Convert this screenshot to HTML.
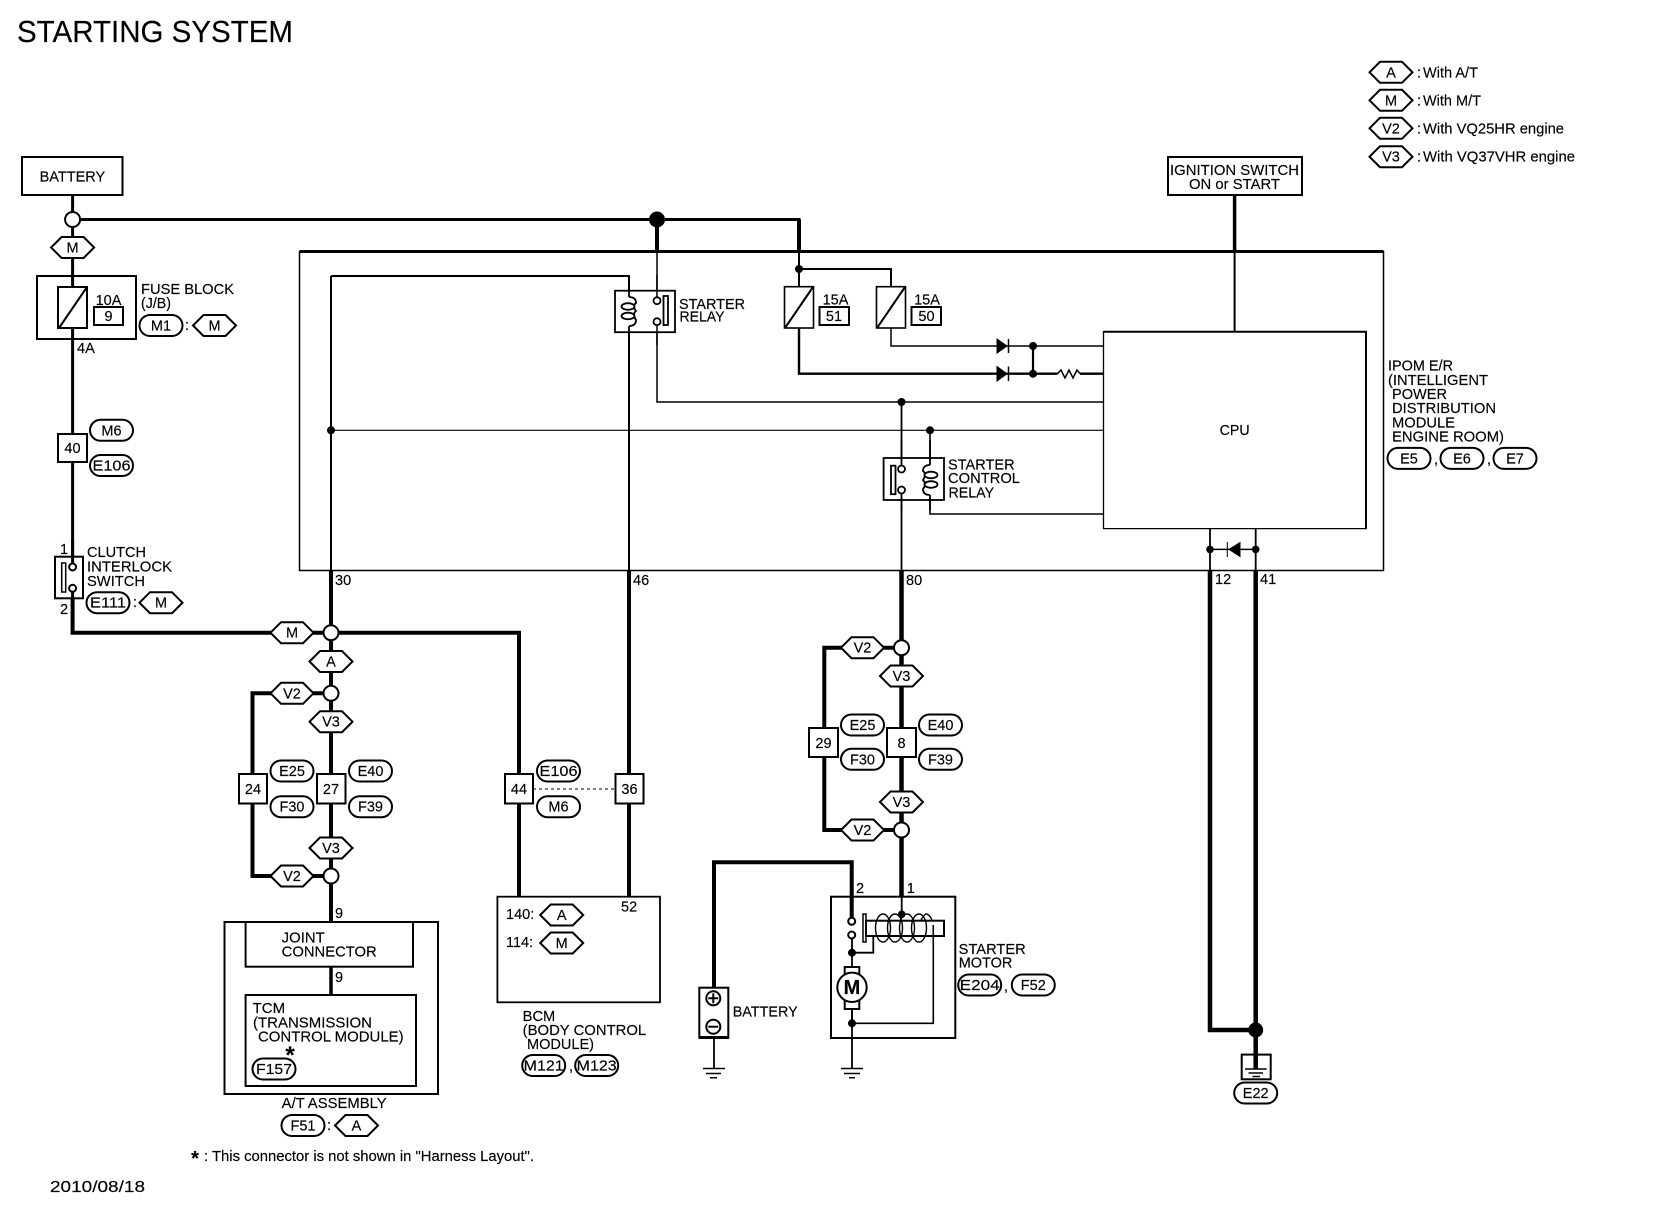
<!DOCTYPE html>
<html><head><meta charset="utf-8"><title>Starting System</title>
<style>
html,body{margin:0;padding:0;background:#fff}
svg{display:block}
text{font-family:"Liberation Sans",Arial,sans-serif;font-size:14.5px;fill:#000;stroke:#000;stroke-width:.15px}
.c{text-anchor:middle}
.s{font-size:14.5px}
</style></head><body>
<svg width="1660" height="1216" viewBox="0 0 1660 1216" xmlns="http://www.w3.org/2000/svg">
<defs>
<polygon id="h" points="-21.5,0 -11,-10.5 11,-10.5 21.5,0 11,10.5 -11,10.5" fill="#fff" stroke="#000" stroke-width="2"/>
<rect id="p" x="-21.5" y="-10.5" width="43" height="21" rx="10.5" ry="10.5" fill="#fff" stroke="#000" stroke-width="2"/>
</defs>
<rect width="1660" height="1216" fill="#fff"/>

<text x="17" y="42" style="font-size:30.5px" textLength="276" lengthAdjust="spacingAndGlyphs">STARTING SYSTEM</text>

<!-- frames -->
<g fill="none" stroke="#000">
<path d="M299.5 570.5V251.7H1383.5V570.5H299.5Z" stroke-width="1.5"/>
<path d="M299.5 251.5H1383.5" stroke-width="3"/>
<path d="M1103.5 331.7H1366V528.6H1103.5Z" stroke-width="1.3"/>
<path d="M1103.5 331.7H1366V528.6" stroke-width="2"/>
<rect x="22" y="157" width="100.5" height="38" stroke-width="2"/>
<rect x="1168" y="157" width="134" height="38" stroke-width="2"/>
<rect x="37" y="276" width="99" height="63" stroke-width="2"/>

<!-- wires thick -->
<path d="M72.6 195V632.7H519V774" stroke-width="3"/>
<path d="M72.6 212V227" stroke-width="3"/>
<path d="M72.6 219.5H799V252" stroke-width="3"/>
<path d="M799 219.5V252" stroke-width="4"/>
<path d="M657 219.5V252" stroke-width="4"/>
<path d="M72.6 598V632.7H331M331 632.7H519V774" stroke-width="4"/>
<path d="M331 570V774M331 803V922" stroke-width="4"/>
<path d="M331 693.3H252.5V774M252.5 803V876H331" stroke-width="4"/>
<path d="M519 803V897M629 570V774M629 803V897" stroke-width="4"/>
<path d="M901.5 570V728M901.5 757V897" stroke-width="4.5"/>
<path d="M901.5 647.7H824.3V728M824.3 757V830H901.5" stroke-width="4"/>
<path d="M714 988V862.3H851.7V921" stroke-width="4"/>
<path d="M1234.6 195V251" stroke-width="3.5"/>
<path d="M1210 570V1030H1255.7M1255.7 570V1069" stroke-width="4.5"/>
<path d="M331 966V995" stroke-width="3.5"/>

<!-- wires thin -->
<path d="M1234.6 251V331.7" stroke-width="2"/>
<path d="M331 276H629V297M629 326V570M331 276V570" stroke-width="2"/>
<path d="M657 252V297M657 325V402H1103.5" stroke-width="1.5"/>
<path d="M799 252V287M799 269H891V287" stroke-width="2"/>
<path d="M891 328V346H1103.5" stroke-width="1.5"/>
<path d="M799 328V373.7H1057.5M1080 373.7H1103.5" stroke-width="2.4"/>
<path d="M1033 346V373.7" stroke-width="2.2"/>
<path d="M331 430.3H1103.5" stroke-width="1.1"/>
<path d="M901.5 402V465M901.5 494V570" stroke-width="1.8"/>
<path d="M930 430V465M930 495V514H1103.5" stroke-width="1.6"/>
<path d="M1210 528.6V570M1255.7 528.6V570" stroke-width="1.8"/>
<path d="M1210 549.4H1255.7" stroke-width="1.5"/>
<path d="M1057.5 373.7L1061 370L1065 378L1069 370L1073 378L1077 370L1080 373.7" stroke-width="1.5"/>
<path d="M533 789H616" stroke-width="1" stroke-dasharray="3,3"/>
<path d="M714 1038V1068M852 1009V1068" stroke-width="1.8"/>
</g>

<!-- relay: starter -->
<g fill="#fff" stroke="#000" stroke-width="1.8">
<rect x="615" y="290.7" width="60" height="41.5"/>
<path d="M629 276V297" fill="none"/>
<path d="M629 326V345" fill="none"/>
<path d="M657 275V297M657 325V345" fill="none" stroke-width="1.5"/>
<path d="M629 297Q636 297 636 303Q632 306 636 311Q632 314 636 320Q636 326 629 326" fill="none"/>
<ellipse cx="628" cy="306.5" rx="6.5" ry="3.3"/>
<ellipse cx="628" cy="316" rx="6.5" ry="3.3"/>
<circle cx="657" cy="300.7" r="3.5"/>
<circle cx="657" cy="321.7" r="3.5"/>
<rect x="663.5" y="296" width="4.5" height="29"/>
</g>

<!-- relay: control -->
<g fill="#fff" stroke="#000" stroke-width="1.8">
<rect x="883.6" y="458" width="60.4" height="42"/>
<path d="M901.5 440V465M901.5 494V510M930 440V465M930 495V510" fill="none"/>
<path d="M930 465Q923 465 923 471Q927 474 923 480Q927 484 923 489Q923 495 930 495" fill="none"/>
<ellipse cx="931" cy="475" rx="6.5" ry="3.3"/>
<ellipse cx="931" cy="484.5" rx="6.5" ry="3.3"/>
<circle cx="901.5" cy="469" r="3.5"/>
<circle cx="901.5" cy="490" r="3.5"/>
<rect x="891" y="465.7" width="4.5" height="28.5"/>
</g>

<!-- fuses -->
<g fill="#fff" stroke="#000" stroke-width="2">
<rect x="58" y="287" width="29" height="41"/><path d="M59 328L87 287" fill="none"/>
<rect x="784.5" y="286.7" width="29" height="41.3" stroke-width="1.6"/><path d="M785 328L813 287" fill="none"/>
<rect x="876.5" y="286.7" width="29" height="41.3" stroke-width="1.6"/><path d="M877 328L905 287" fill="none"/>
<rect x="94" y="307" width="29" height="18"/>
<rect x="819.5" y="307" width="29.5" height="18"/>
<rect x="911.5" y="307" width="29.5" height="18"/>
</g>
<text class="c s" x="108.5" y="305">10A</text><text class="c s" x="108.5" y="321">9</text>
<text class="c s" x="835.5" y="304.5">15A</text><text class="c s" x="834" y="321">51</text>
<text class="c s" x="927" y="304.5">15A</text><text class="c s" x="926.5" y="321">50</text>

<!-- diodes -->
<g fill="#000" stroke="#000">
<polygon points="997,339 1007,346 997,353"/><path d="M1008.5 339V353" stroke-width="1.5"/>
<polygon points="997,366.5 1007,373.7 997,381"/><path d="M1008.5 366.5V381" stroke-width="1.5"/>
<polygon points="1229,549.4 1240,542.5 1240,556.5"/><path d="M1227.3 542V557" stroke-width="1"/>
</g>

<!-- dots -->
<g fill="#000">
<circle cx="657" cy="219.5" r="8"/>
<circle cx="799" cy="269" r="4"/>
<circle cx="1033" cy="346" r="4"/>
<circle cx="1033" cy="373.7" r="4"/>
<circle cx="901.5" cy="402" r="4"/>
<circle cx="930" cy="430.3" r="4"/>
<circle cx="331" cy="430.3" r="4"/>
<circle cx="1210" cy="549.4" r="3.8"/>
<circle cx="1255.7" cy="549.4" r="3.8"/>
<circle cx="1255.7" cy="1030" r="7.5"/>
</g>

<!-- open junctions -->
<g fill="#fff" stroke="#000" stroke-width="2">
<circle cx="72.6" cy="219.5" r="7.5"/>
<circle cx="331" cy="632.7" r="7.5"/>
<circle cx="331" cy="693.3" r="7.5"/>
<circle cx="331" cy="876" r="7.5"/>
<circle cx="901.5" cy="647.7" r="7.5"/>
<circle cx="901.5" cy="830" r="7.5"/>
</g>

<!-- connectors square -->
<g fill="#fff" stroke="#000" stroke-width="2">
<rect x="58" y="434" width="29" height="28"/>
<rect x="239" y="774" width="28" height="29.5"/>
<rect x="317" y="774" width="28.5" height="29.5"/>
<rect x="505" y="774" width="28" height="29.5"/>
<rect x="615.5" y="774" width="28" height="29.5"/>
<rect x="809" y="728" width="29" height="29"/>
<rect x="887" y="728" width="29" height="29"/>
</g>
<g>
<text class="c s" x="72.5" y="453">40</text>
<text class="c s" x="253" y="794">24</text>
<text class="c s" x="331" y="794">27</text>
<text class="c s" x="519" y="794">44</text>
<text class="c s" x="629.5" y="794">36</text>
<text class="c s" x="823.5" y="748">29</text>
<text class="c s" x="901.5" y="748">8</text>
</g>

<!-- clutch switch -->
<g fill="#fff" stroke="#000" stroke-width="2">
<rect x="55" y="556.7" width="28" height="41.6"/>
<path d="M72.6 540V563M72.6 592V612" fill="none" stroke-width="3"/>
<circle cx="72.6" cy="567" r="3.5"/>
<circle cx="72.6" cy="588.3" r="3.5"/>
<rect x="61.7" y="563" width="4" height="29" stroke-width="1.5"/>
</g>

<!-- JOINT / TCM / BCM -->
<g fill="none" stroke="#000" stroke-width="2">
<rect x="224.5" y="922" width="213.5" height="172"/>
<rect x="245.6" y="922" width="167.4" height="44.7"/>
<rect x="245.6" y="995" width="170.4" height="91"/>
<rect x="497.4" y="896.7" width="162.6" height="105.6" stroke-width="1.8"/>
</g>

<!-- starter motor -->
<g fill="none" stroke="#000" stroke-width="2">
<rect x="831" y="896.7" width="124.3" height="141.3"/>
<path d="M901.7 897V914" stroke-width="1.8"/>
<circle cx="851.7" cy="921.3" r="3.5" fill="#fff"/>
<circle cx="851.7" cy="935" r="3.5" fill="#fff"/>
<path d="M852 939V967M852 952.7H873.3V936" stroke-width="1.8"/>
<rect x="863" y="914" width="3" height="28" fill="#fff" stroke-width="1.5"/>
<rect x="866" y="920.7" width="78" height="15.3" fill="#fff" stroke-width="2"/>
<g stroke-width="1.4">
<ellipse cx="883" cy="928" rx="7.5" ry="14"/>
<ellipse cx="895" cy="928" rx="7.5" ry="14"/>
<ellipse cx="907" cy="928" rx="7.5" ry="14"/>
<ellipse cx="919" cy="928" rx="7.5" ry="14"/>
<path d="M921 920Q925 913 927 914Q931 916 932 921"/>
</g>
<path d="M933.3 925V1023.3H852" stroke-width="1.6"/>
<rect x="844.7" y="967" width="14.6" height="8" fill="#fff"/>
<rect x="844.7" y="1000" width="14.6" height="9" fill="#fff"/>
<circle cx="852" cy="987.3" r="14.7" fill="#fff"/>
<path d="M852 1009V1023" stroke-width="1.8"/>
</g>
<text class="c" x="852" y="994" style="font-size:20px;font-weight:bold">M</text>
<circle cx="852" cy="952.7" r="4" fill="#000"/>
<circle cx="852" cy="1023.3" r="4" fill="#000"/>
<circle cx="901.7" cy="914.3" r="3.8" fill="#000"/>

<!-- battery symbol -->
<g fill="#fff" stroke="#000" stroke-width="2">
<rect x="699.3" y="987.7" width="29" height="50"/>
<path d="M699.3 1037.5H728.3" stroke-width="3"/>
<circle cx="713.3" cy="998.3" r="7"/>
<path d="M708.3 998.3H718.3M713.3 993.3V1003.3" fill="none"/>
<circle cx="713.3" cy="1026.7" r="7"/>
<path d="M708.3 1026.7H718.3" fill="none"/>
</g>

<!-- grounds -->
<g stroke="#000" stroke-width="1.5" fill="none">
<path d="M703 1068.5H725M706 1073.5H721M710 1077.7H717"/>
<path d="M841 1068.5H863M844 1073.5H860M849 1077.7H855"/>
<rect x="1241.7" y="1054.6" width="29" height="24.7" stroke-width="2"/>
<path d="M1255.7 1045V1069" stroke-width="3"/>
<path d="M1245 1069H1266.7M1248.5 1073H1263M1252.5 1076.5H1260"/>
</g>

<!-- hexes -->
<use href="#h" x="72.6" y="247.5"/><text class="c s" x="72.6" y="252.5">M</text>
<use href="#h" x="214.5" y="325.5"/><text class="c s" x="214.5" y="330.5">M</text>
<use href="#h" x="161" y="602.7"/><text class="c s" x="161" y="607.7">M</text>
<use href="#h" x="292" y="632.7"/><text class="c s" x="292" y="637.7">M</text>
<use href="#h" x="331" y="661.5"/><text class="c s" x="331" y="666.5">A</text>
<use href="#h" x="292" y="693.3"/><text class="c s" x="292" y="698.3">V2</text>
<use href="#h" x="331" y="721.7"/><text class="c s" x="331" y="726.7">V3</text>
<use href="#h" x="331" y="848"/><text class="c s" x="331" y="853">V3</text>
<use href="#h" x="292" y="876"/><text class="c s" x="292" y="881">V2</text>
<use href="#h" x="356.5" y="1125.5"/><text class="c s" x="356.5" y="1130.5">A</text>
<use href="#h" x="561.7" y="915"/><text class="c s" x="561.7" y="920">A</text>
<use href="#h" x="561.7" y="943"/><text class="c s" x="561.7" y="948">M</text>
<use href="#h" x="862.5" y="647.7"/><text class="c s" x="862.5" y="652.7">V2</text>
<use href="#h" x="901.5" y="676"/><text class="c s" x="901.5" y="681">V3</text>
<use href="#h" x="901.5" y="802"/><text class="c s" x="901.5" y="807">V3</text>
<use href="#h" x="862.5" y="830"/><text class="c s" x="862.5" y="835">V2</text>
<use href="#h" x="1391" y="72.3"/><text class="c s" x="1391" y="77.3">A</text>
<use href="#h" x="1391" y="100.3"/><text class="c s" x="1391" y="105.3">M</text>
<use href="#h" x="1391" y="128.3"/><text class="c s" x="1391" y="133.3">V2</text>
<use href="#h" x="1391" y="156.7"/><text class="c s" x="1391" y="161.7">V3</text>

<!-- pills -->
<use href="#p" x="161" y="325.5"/><text class="c s" x="161" y="330.5">M1</text>
<use href="#p" x="111.5" y="430.3"/><text class="c s" x="111.5" y="435.3">M6</text>
<use href="#p" x="111.5" y="465.5"/><text class="c s" x="111.5" y="470.5" textLength="38" lengthAdjust="spacingAndGlyphs">E106</text>
<use href="#p" x="108" y="602.7"/><text class="c s" x="108" y="607.7" textLength="36" lengthAdjust="spacingAndGlyphs">E111</text>
<use href="#p" x="292" y="771"/><text class="c s" x="292" y="776">E25</text>
<use href="#p" x="292" y="806.7"/><text class="c s" x="292" y="811.7">F30</text>
<use href="#p" x="370.5" y="771"/><text class="c s" x="370.5" y="776">E40</text>
<use href="#p" x="370.5" y="806.7"/><text class="c s" x="370.5" y="811.7">F39</text>
<use href="#p" x="558.5" y="771"/><text class="c s" x="558.5" y="776" textLength="38" lengthAdjust="spacingAndGlyphs">E106</text>
<use href="#p" x="558.5" y="806.7"/><text class="c s" x="558.5" y="811.7">M6</text>
<use href="#p" x="274" y="1069"/><text class="c s" x="274" y="1074" textLength="36" lengthAdjust="spacingAndGlyphs">F157</text>
<use href="#p" x="303" y="1125.5"/><text class="c s" x="303" y="1130.5">F51</text>
<use href="#p" x="543.7" y="1065.5"/><text class="c s" x="543.7" y="1070.5" textLength="40" lengthAdjust="spacingAndGlyphs">M121</text>
<use href="#p" x="596.7" y="1065.5"/><text class="c s" x="596.7" y="1070.5" textLength="40" lengthAdjust="spacingAndGlyphs">M123</text>
<use href="#p" x="862.5" y="725"/><text class="c s" x="862.5" y="730">E25</text>
<use href="#p" x="862.5" y="759.3"/><text class="c s" x="862.5" y="764.3">F30</text>
<use href="#p" x="940.5" y="725"/><text class="c s" x="940.5" y="730">E40</text>
<use href="#p" x="940.5" y="759.3"/><text class="c s" x="940.5" y="764.3">F39</text>
<use href="#p" x="979.7" y="985"/><text class="c s" x="979.7" y="990" textLength="40" lengthAdjust="spacingAndGlyphs">E204</text>
<use href="#p" x="1033.3" y="985"/><text class="c s" x="1033.3" y="990">F52</text>
<use href="#p" x="1255.7" y="1093"/><text class="c s" x="1255.7" y="1098">E22</text>
<use href="#p" x="1409" y="458.4"/><text class="c s" x="1409" y="463.4">E5</text>
<use href="#p" x="1462" y="458.4"/><text class="c s" x="1462" y="463.4">E6</text>
<use href="#p" x="1515" y="458.4"/><text class="c s" x="1515" y="463.4">E7</text>

<!-- colons and commas -->
<text class="s" x="185" y="330">:</text>
<text class="s" x="133" y="607">:</text>
<text class="s" x="327" y="1130">:</text>
<text class="s" x="569" y="1071">,</text>
<text class="s" x="1004" y="991">,</text>
<text class="s" x="1434" y="464">,</text>
<text class="s" x="1487" y="464">,</text>

<!-- labels -->
<text x="39.6" y="181.7" textLength="65.6" lengthAdjust="spacingAndGlyphs">BATTERY</text>
<text x="141" y="294" textLength="93" lengthAdjust="spacingAndGlyphs">FUSE BLOCK</text>
<text x="141" y="308" textLength="30" lengthAdjust="spacingAndGlyphs">(J/B)</text>
<text class="s" x="77" y="353">4A</text>
<text x="679" y="309" textLength="66" lengthAdjust="spacingAndGlyphs">STARTER</text>
<text x="679.5" y="321.7" textLength="45" lengthAdjust="spacingAndGlyphs">RELAY</text>
<text x="948" y="469.3" textLength="66.6" lengthAdjust="spacingAndGlyphs">STARTER</text>
<text x="948" y="483" textLength="72" lengthAdjust="spacingAndGlyphs">CONTROL</text>
<text x="948.5" y="497.7" textLength="45.6" lengthAdjust="spacingAndGlyphs">RELAY</text>
<text class="s" x="633" y="585">46</text>
<text class="s" x="906" y="585">80</text>
<text class="s" x="335" y="585">30</text>
<text class="s" x="1215" y="584">12</text>
<text class="s" x="1260" y="584">41</text>
<text class="s c" x="64" y="554">1</text>
<text class="s c" x="64" y="614">2</text>
<text x="87" y="557" textLength="59" lengthAdjust="spacingAndGlyphs">CLUTCH</text>
<text x="87" y="571.7" textLength="85" lengthAdjust="spacingAndGlyphs">INTERLOCK</text>
<text x="87" y="586" textLength="58" lengthAdjust="spacingAndGlyphs">SWITCH</text>
<text class="s" x="335" y="918">9</text>
<text class="s" x="335" y="982">9</text>
<text x="281.7" y="942.7" textLength="43" lengthAdjust="spacingAndGlyphs">JOINT</text>
<text x="281.7" y="956.7" textLength="95" lengthAdjust="spacingAndGlyphs">CONNECTOR</text>
<text x="252.6" y="1013" textLength="32.6" lengthAdjust="spacingAndGlyphs">TCM</text>
<text x="253" y="1027.7" textLength="119" lengthAdjust="spacingAndGlyphs">(TRANSMISSION</text>
<text x="258" y="1041.7" textLength="145.6" lengthAdjust="spacingAndGlyphs">CONTROL MODULE)</text>
<text class="c" x="290" y="1063" style="font-size:24px;font-weight:bold">*</text>
<text x="281.7" y="1108" textLength="105" lengthAdjust="spacingAndGlyphs">A/T ASSEMBLY</text>
<text class="c" x="195" y="1165" style="font-size:20px;font-weight:bold">*</text>
<text x="204" y="1161" textLength="330" lengthAdjust="spacingAndGlyphs">: This connector is not shown in "Harness Layout".</text>
<text x="50" y="1192" style="font-size:16px" textLength="95" lengthAdjust="spacingAndGlyphs">2010/08/18</text>
<text class="s" x="506" y="919">140:</text>
<text class="s" x="506" y="947">114:</text>
<text class="s" x="621" y="911.7">52</text>
<text x="522.7" y="1021" textLength="32.6" lengthAdjust="spacingAndGlyphs">BCM</text>
<text x="522.7" y="1035" textLength="123.5" lengthAdjust="spacingAndGlyphs">(BODY CONTROL</text>
<text x="527" y="1049" textLength="67" lengthAdjust="spacingAndGlyphs">MODULE)</text>
<text class="s" x="856" y="893">2</text>
<text class="s" x="906.7" y="893">1</text>
<text x="732.7" y="1016.7" textLength="65" lengthAdjust="spacingAndGlyphs">BATTERY</text>
<text x="958.7" y="954" textLength="67" lengthAdjust="spacingAndGlyphs">STARTER</text>
<text x="958.7" y="967.7" textLength="53.7" lengthAdjust="spacingAndGlyphs">MOTOR</text>
<text x="1170" y="175" textLength="129" lengthAdjust="spacingAndGlyphs">IGNITION SWITCH</text>
<text x="1189" y="189" textLength="91" lengthAdjust="spacingAndGlyphs">ON or START</text>
<text x="1219.6" y="435" textLength="30" lengthAdjust="spacingAndGlyphs">CPU</text>
<text x="1388" y="370.7" textLength="65" lengthAdjust="spacingAndGlyphs">IPOM E/R</text>
<text x="1388" y="385" textLength="100" lengthAdjust="spacingAndGlyphs">(INTELLIGENT</text>
<text x="1392" y="399" textLength="55" lengthAdjust="spacingAndGlyphs">POWER</text>
<text x="1392" y="413" textLength="104" lengthAdjust="spacingAndGlyphs">DISTRIBUTION</text>
<text x="1392" y="427.7" textLength="63" lengthAdjust="spacingAndGlyphs">MODULE</text>
<text x="1392" y="441.7" textLength="112" lengthAdjust="spacingAndGlyphs">ENGINE ROOM)</text>
<text class="s" x="1417" y="77.3">:</text><text x="1423" y="77.3" textLength="55" lengthAdjust="spacingAndGlyphs">With A/T</text>
<text class="s" x="1417" y="105.3">:</text><text x="1423" y="105.3" textLength="58" lengthAdjust="spacingAndGlyphs">With M/T</text>
<text class="s" x="1417" y="133.3">:</text><text x="1423" y="133.3" textLength="141" lengthAdjust="spacingAndGlyphs">With VQ25HR engine</text>
<text class="s" x="1417" y="161.7">:</text><text x="1423" y="161.7" textLength="152" lengthAdjust="spacingAndGlyphs">With VQ37VHR engine</text>
</svg>
</body></html>
